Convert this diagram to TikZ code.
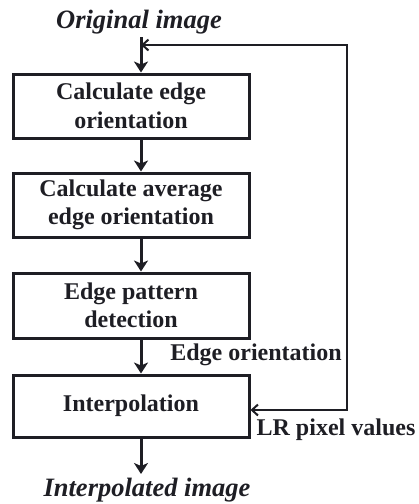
\documentclass[tikz,border=0pt]{standalone}
\usepackage{fontspec}
\setmainfont{Liberation Serif}
\usetikzlibrary{arrows.meta}
\definecolor{ink}{HTML}{1E1E24}
\tikzset{
  stepbox/.style={draw=ink, line width=3pt, minimum width=236pt, inner sep=0pt,
    align=center, text=ink, font=\fontsize{24}{28.5}\selectfont\bfseries},
  title/.style={text=ink, inner sep=0pt, font=\fontsize{26.5}{30}\selectfont\bfseries\itshape},
  lbl/.style={text=ink, inner sep=0pt, font=\fontsize{24}{28}\selectfont\bfseries},
  flow/.style={draw=ink, line width=3pt, -{Stealth[length=11pt,width=14pt,inset=3pt]}},
  loop/.style={draw=ink, line width=2pt, line join=miter,
    {Straight Barb[length=6pt,width=11pt,line width=2pt]}-{Straight Barb[length=6pt,width=11pt,line width=2pt]}}
}
\begin{document}
\begin{tikzpicture}[x=1pt,y=1pt]
  \useasboundingbox (0,0) rectangle (419,-504);

  % process steps
  \node[stepbox, minimum height=64pt] (b1) at (131,-106) {Calculate edge\\orientation};
  \node[stepbox, minimum height=64pt] (b2) at (131,-205) {Calculate average\\edge orientation};
  \node[stepbox, minimum height=65pt] (b3) at (131,-305.5) {Edge pattern\\detection};
  \node[stepbox, minimum height=62pt] (b4) at (131,-406) {Interpolation};

  % input and output
  \node[title] (orig) at (139,-22) {Original image};
  \node[title] (out) at (147,-490) {Interpolated image};

  % side labels
  \node[lbl] (eo) at (256,-355) {Edge orientation};
  \node[lbl] (lr) at (336,-430) {LR pixel values};

  % main flow
  \coordinate (ax) at (141,0);
  \coordinate (in) at (141,-37);
  \coordinate (outtop) at (141,-474);
  \draw[flow] (in) -- (b1.north -| ax);
  \draw[flow] (b1.south -| ax) -- (b2.north -| ax);
  \draw[flow] (b2.south -| ax) -- (b3.north -| ax);
  \draw[flow] (b3.south -| ax) -- (b4.north -| ax);
  \draw[flow] (b4.south -| ax) -- (outtop);

  % feedback loop
  \coordinate (fbT) at (347,-45);
  \coordinate (fbB) at (347,-410);
  \draw[loop] (ax |- fbT) -- (fbT) -- (fbB) -- (b4.east |- fbB);
\end{tikzpicture}
\end{document}
